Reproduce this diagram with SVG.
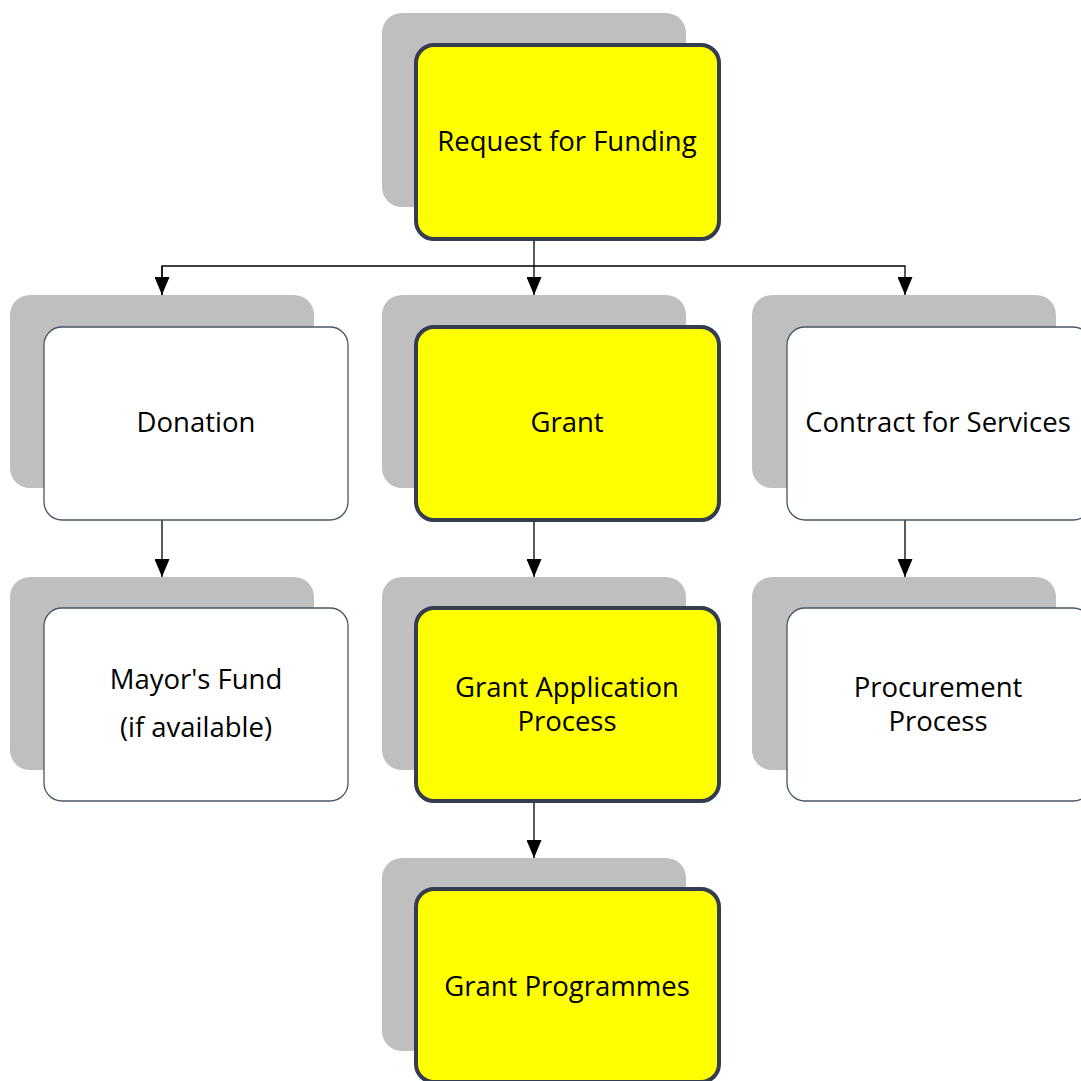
<svg xmlns="http://www.w3.org/2000/svg" width="1081" height="1081" viewBox="0 0 1081 1081">
<defs>
<style>
.sh{fill:#bfbfbf}
.y{fill:#ffff00;stroke:#333d4f;stroke-width:4}
.w{fill:#ffffff;stroke:#4a5566;stroke-width:1.3}
.t{font-family:"Open Sans","Liberation Sans",sans-serif;font-size:27.5px;fill:#000;text-anchor:middle}
.c{fill:none;stroke:#000;stroke-width:1.3}
</style>
<marker id="arr" markerWidth="18" markerHeight="15" refX="18" refY="7.5" orient="auto" markerUnits="userSpaceOnUse" viewBox="0 0 18 15">
<path d="M0,0 L18,7.5 L0,15 Z" fill="#000"/>
</marker>
</defs>
<rect width="1081" height="1081" fill="#fff"/>
<g id="connectors">
<path class="c" d="M534,240 V295" marker-end="url(#arr)"/>
<path class="c" d="M162,295 V266 H905 V295" marker-end="url(#arr)"/>
<path class="c" d="M162,266 V295" marker-end="url(#arr)"/>
<path class="c" d="M162,520 V577" marker-end="url(#arr)"/>
<path class="c" d="M534,520 V577" marker-end="url(#arr)"/>
<path class="c" d="M905,520 V577" marker-end="url(#arr)"/>
<path class="c" d="M534,801 V858" marker-end="url(#arr)"/>
</g>
<g id="request">
<rect class="sh" x="382" y="13" width="304" height="194" rx="20"/>
<rect class="y" x="416" y="45" width="303" height="194" rx="18"/>
<text class="t" x="567" y="151">Request for Funding</text>
</g>
<g id="donation">
<rect class="sh" x="10" y="295" width="304" height="193" rx="20"/>
<rect class="w" x="44" y="327" width="304" height="193" rx="18"/>
<text class="t" x="196" y="432">Donation</text>
</g>
<g id="grant">
<rect class="sh" x="382" y="295" width="304" height="193" rx="20"/>
<rect class="y" x="416" y="327" width="303" height="193" rx="18"/>
<text class="t" x="567" y="432">Grant</text>
</g>
<g id="contract">
<rect class="sh" x="752" y="295" width="304" height="193" rx="20"/>
<rect class="w" x="787" y="327" width="304" height="193" rx="18"/>
<text class="t" x="938" y="432">Contract for Services</text>
</g>
<g id="mayor">
<rect class="sh" x="10" y="577" width="304" height="193" rx="20"/>
<rect class="w" x="44" y="608" width="304" height="193" rx="18"/>
<text class="t" x="196" y="689">Mayor's Fund</text>
<text class="t" x="196" y="737">(if available)</text>
</g>
<g id="gap">
<rect class="sh" x="382" y="577" width="304" height="193" rx="20"/>
<rect class="y" x="416" y="608" width="303" height="193" rx="18"/>
<text class="t" x="567" y="697">Grant Application</text>
<text class="t" x="567" y="731">Process</text>
</g>
<g id="procurement">
<rect class="sh" x="752" y="577" width="304" height="193" rx="20"/>
<rect class="w" x="787" y="608" width="304" height="193" rx="18"/>
<text class="t" x="938" y="697">Procurement</text>
<text class="t" x="938" y="731">Process</text>
</g>
<g id="programmes">
<rect class="sh" x="382" y="858" width="304" height="193" rx="20"/>
<rect class="y" x="416" y="889" width="303" height="193" rx="18"/>
<text class="t" x="567" y="996">Grant Programmes</text>
</g>
</svg>
